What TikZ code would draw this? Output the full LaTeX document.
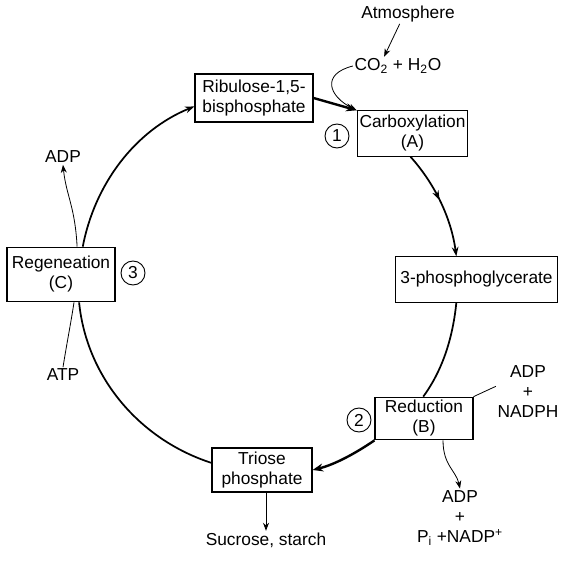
\documentclass[tikz,border=0pt]{standalone}
\usepackage{fontspec}
\setmainfont{Liberation Sans}
\usetikzlibrary{arrows.meta,decorations.markings}
\tikzset{every picture/.style={line width=0.75pt}}
\tikzset{
  stagebox/.style={draw, line width=0.8pt, align=center, inner sep=1.5pt, font=\fontsize{13}{15}\selectfont},
  txt/.style={inner sep=1pt, font=\fontsize{13}{15}\selectfont},
  stepnum/.style={draw, circle, line width=0.7pt, minimum size=18pt, inner sep=0pt, font=\fontsize{13}{15}\selectfont},
  cyc/.style={line width=1.3pt},
  cycarr/.style={cyc, -{Stealth[length=7pt,width=5pt]}},
  boldarr/.style={line width=1.8pt, -{Stealth[length=8pt,width=6pt]}},
  side/.style={line width=0.6pt},
  sidearr/.style={side, -{Stealth[length=6pt,width=4.5pt]}},
  midarrow/.style={postaction={decorate}, decoration={markings, mark=at position 0.47 with {\arrow{Stealth[length=7pt,width=5pt]}}}}
}

\begin{document}
\begin{tikzpicture}[x=0.75pt,y=0.75pt,yscale=-1,xscale=1]
\useasboundingbox (0,0) rectangle (574,567);

%Shape: Boxes of the cycle
\node[stagebox, minimum width=88.5pt, minimum height=36pt] (ribu) at (254,98) {Ribulose-1,5-\\bisphosphate};
\node[stagebox, minimum width=83pt, minimum height=34pt] (carb) at (412.5,133.5) {Carboxylation\\(A)};
\node[stagebox, minimum width=81pt, minimum height=41pt] (regen) at (61,274.5) {Regeneation\\(C)};
\node[stagebox, minimum width=122pt, minimum height=34pt] (pga) at (476.5,279.5) {3-phosphoglycerate};
\node[stagebox, minimum width=73.5pt, minimum height=32pt] (redu) at (424,418.5) {Reduction\\(B)};
\node[stagebox, minimum width=75pt, minimum height=33pt] (trio) at (262,470) {Triose\\phosphate};

%Shape: Circle numbers
\node[stepnum] (n1) at (337,136) {1};
\node[stepnum] (n2) at (359,420) {2};
\node[stepnum] (n3) at (133,273) {3};

% Text Node
\node[txt] (atm) at (408,14) {Atmosphere};
% Text Node
\node[txt] (co2) at (398,66) {CO\textsubscript{2} + H\textsubscript{2}O};
% Text Node
\node[txt] (adpc) at (63,157) {ADP};
% Text Node
\node[txt] (atp) at (63,375) {ATP};
% Text Node
\node[txt, align=center] (nadph) at (528,392) {ADP\\+\\NADPH};
% Text Node
\node[txt, align=center] (prod) at (460,518) {ADP\\+\\P\textsubscript{i} +NADP\textsuperscript{+}};
% Text Node
\node[txt] (sucr) at (266,540) {Sucrose, starch};

%Curve Lines: the cycle
\draw[cycarr] (regen.52) .. controls +(12,-63) and +(-59,24) .. (ribu.188);
\draw[boldarr] (ribu.east) -- (carb.north west);
\draw[cycarr, midarrow] (carb.265) .. controls +(25,28) and +(-5,-37.5) .. (pga.131);
\draw[cyc] (pga.229) .. controls +(-3.4,33.8) and +(20,-27.4) .. (redu.92);
\draw[boldarr] (redu.south west) .. controls +(-18.9,12.9) and +(22.2,-5.4) .. (trio.east);
\draw[cyc] (trio.172) .. controls +(-71.8,-23.2) and +(7.5,75.1) .. (regen.303);

%Curve Lines: side arrows
\draw[sidearr] (atm.230) -- (co2.146);
\draw[sidearr] (co2.west) .. controls +(-32,8) and +(-28,-14) .. (carb.north west);
\draw[sidearr] (regen.60) .. controls +(-2,-40) and +(3,30) .. (adpc.south);
\draw[side] (atp.north) .. controls +(4,-25) and +(-3,20) .. (regen.295);
\draw[side] (nadph.170) -- (redu.north east);
\draw[sidearr] (redu.311) .. controls +(0,25) and +(-4,-18) .. (prod.north);
\draw[sidearr] (trio.south -| sucr.north) -- (sucr.north);

\end{tikzpicture}
\end{document}
